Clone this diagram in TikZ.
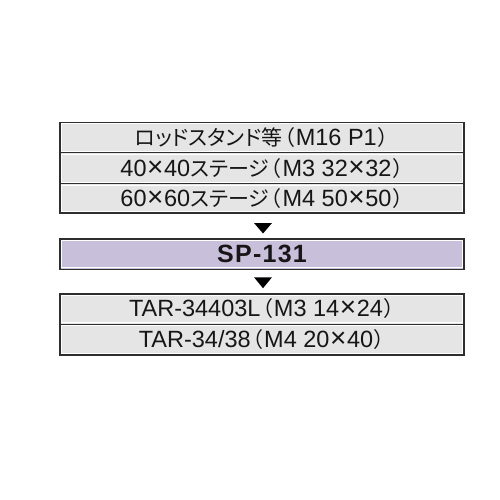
\documentclass[tikz,border=0pt]{standalone}
\usepackage{fontspec}
\setmainfont{Liberation Sans}
\newfontfamily\jpf[RawFeature=+palt]{Noto Sans CJK JP}
\newcommand\jp[1]{{\jpf\fontsize{21}{21}\selectfont #1}}
\newcommand\lpar{\kern1.5pt\jp{（}\kern1.5pt}
\newcommand\rpar{\kern1.5pt\jp{）}}
\newcommand\tms{{\kern0.6pt\fontsize{28}{28}\selectfont ×\kern0.6pt}}
\usetikzlibrary{calc}
\definecolor{rowgray}{HTML}{E5E5E5}
\definecolor{lav}{HTML}{C8BFDA}
\definecolor{edge}{HTML}{2E2E2E}
\definecolor{ink}{HTML}{161616}
\begin{document}
\begin{tikzpicture}[x=1pt,y=1pt,
  row/.style={minimum width=404pt, minimum height=#1, inner sep=0pt, outer sep=0pt,
    fill=rowgray, text=ink, font=\fontsize{23.5}{23.5}\selectfont},
  row/.default=30.5pt,
  inset/.style={white, line width=0.9pt},
  frame/.style={edge, line width=1.5pt},
  divider/.style={edge, line width=1.3pt},
  tri/.style={fill=black}]
\useasboundingbox (0,0) rectangle (500,-500);
% top group
\node[row] (r1) at (262,-137.5) {\jp{ロッドスタンド等}\lpar M16 P1\rpar};
\node[row] (r2) at (262,-168.5) {40\tms 40\jp{ステージ}\lpar M3 32\tms 32\rpar};
\node[row=29pt] (r3) at (262,-198.5) {60\tms 60\jp{ステージ}\lpar M4 50\tms 50\rpar};
% SP
\node[row, fill=lav, font=\fontsize{25}{25}\selectfont\bfseries\addfontfeature{LetterSpace=5}] (sp) at (262,-254) {SP-131};
% bottom group
\node[row] (r4) at (262,-309) {TAR-34403L\lpar M3 14\tms 24\rpar};
\node[row] (r5) at (262,-339.5) {TAR-34/38\lpar M4 20\tms 40\rpar};
% white inner lines
\foreach \n in {r1,r2,r3,sp,r4,r5}{
  \draw[inset] ([shift={(1.6pt,-1.6pt)}]\n.north west) rectangle ([shift={(-1.6pt,1.6pt)}]\n.south east);
}
% frames
\draw[frame] (r1.north west) rectangle (r3.south east);
\draw[divider] (r1.south west) -- (r1.south east);
\draw[divider] (r2.south west) -- (r2.south east);
\draw[frame] (sp.north west) rectangle (sp.south east);
\draw[frame] (r4.north west) rectangle (r5.south east);
\draw[divider] (r4.south west) -- (r4.south east);
% arrows
\fill[tri] ($(r3.south)+(-8,-10)$) -- ($(r3.south)+(10,-10)$) -- ($(r3.south)+(1,-20.5)$) -- cycle;
\fill[tri] ($(sp.south)+(-8,-8)$) -- ($(sp.south)+(10,-8)$) -- ($(sp.south)+(1,-19)$) -- cycle;
\end{tikzpicture}
\end{document}
